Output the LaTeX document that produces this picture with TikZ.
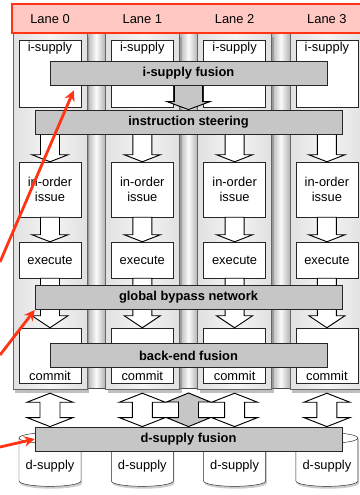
\documentclass[tikz,border=0pt]{standalone}
\usepackage{fontspec}
\setmainfont{Liberation Sans}
\usetikzlibrary{calc, shadows, arrows.meta}

\definecolor{hilite}{HTML}{FF3414}
\definecolor{lanebar}{HTML}{FFC8C2}

\pgfdeclarelayer{back}
\pgfdeclarelayer{front}
\pgfsetlayers{back,main,front}

% fat block arrows: style, shaft half width, head half width, head length, from, to
\newcommand{\fatdown}[6]{%
  \draw[#1] ($(#5)+(-#2,0)$) -- ($(#6)+(-#2,-#4)$) -- ($(#6)+(-#3,-#4)$) -- (#6)
    -- ($(#6)+(#3,-#4)$) -- ($(#6)+(#2,-#4)$) -- ($(#5)+(#2,0)$) -- cycle;}
\newcommand{\fatboth}[6]{%
  \draw[#1] (#5) -- ($(#5)+(#3,#4)$) -- ($(#5)+(#2,#4)$) -- ($(#6)+(#2,-#4)$)
    -- ($(#6)+(#3,-#4)$) -- (#6) -- ($(#6)+(-#3,-#4)$) -- ($(#6)+(-#2,-#4)$)
    -- ($(#5)+(-#2,#4)$) -- ($(#5)+(-#3,#4)$) -- cycle;}

\begin{document}
\begin{tikzpicture}[x=0.03cm, y=-0.03cm, font=\fontsize{11}{13}\selectfont, line width=0.6pt,
    box/.style={draw=black!85, fill=white, minimum width=1.86cm, inner sep=1pt, align=center},
    bar/.style={draw=black!85, fill=gray!45, font=\fontsize{11}{13}\selectfont\bfseries, minimum height=0.73cm},
    fat/.style={draw=black, fill=white, line width=0.8pt, line join=miter},
    fatgray/.style={fat, fill=gray!45},
    panel/.style={draw=black!60, left color=gray!24, right color=gray!24, middle color=gray!8,
      drop shadow={opacity=0.5, shadow xshift=2pt, shadow yshift=-3pt}},
    store/.style={draw=black!85, fill=white, drop shadow={opacity=0.4, shadow xshift=1pt, shadow yshift=-2pt}},
    pointer/.style={hilite, line width=2.4pt, -{Stealth[length=9pt, width=9pt]}}]
  \useasboundingbox (0,0) rectangle (360,495);
  \clip (0,0) rectangle (360,495);

  % Lane header
  \draw[hilite, line width=2.5pt, fill=lanebar] (12,4) rectangle (375,33);
  \foreach \i in {0,...,3}
    \node (lane\i) at (50+92.3*\i,19) {Lane \i};

  % Lane panels and pillars
  \begin{pgfonlayer}{back}
    \foreach \i in {0,...,2}
      \shade[draw=black!70, left color=gray!60, right color=gray!60, middle color=gray!3]
        (87+92.3*\i,33) rectangle (105.3+92.3*\i,388);
    \foreach \i in {0,...,3}
      \draw[panel] (13+92.3*\i,33) rectangle (87+92.3*\i,389);
  \end{pgfonlayer}

  % Per-lane stages
  \foreach \i in {0,...,3} {
    \node[box, minimum height=2.01cm, label={[anchor=north, inner sep=2pt]north:i-supply}] (isup\i) at (50+92.3*\i,73.5) {};
    \node[box, minimum height=1.65cm] (issue\i) at (50+92.3*\i,189.5) {in-order\\issue};
    \node[box, minimum height=1.08cm] (exec\i) at (50+92.3*\i,260) {execute};
    \node[box, minimum height=1.65cm, label={[anchor=south, inner sep=2pt]south:commit}] (commit\i) at (50+92.3*\i,355.5) {};
    \coordinate (dtop\i) at ($(commit\i.south)+(0,10)$);
    % d-supply store
    \draw[store] (19+92.3*\i,438) -- (19+92.3*\i,481)
      arc[start angle=180, end angle=360, x radius=0.93cm, y radius=0.16cm]
      -- (81+92.3*\i,438) arc[start angle=0, end angle=180, x radius=0.93cm, y radius=0.16cm] -- cycle;
    \draw[draw=black!85] (19+92.3*\i,438) arc[start angle=180, end angle=360, x radius=0.93cm, y radius=0.16cm];
    \node (dsup\i) at (50+92.3*\i,466) {d-supply};
  }

  % Shared bars
  \begin{pgfonlayer}{front}
    \node[bar, minimum width=8.31cm] (isf) at (188.5,73) {i-supply fusion};
    \node[bar, minimum width=9.21cm] (steer) at (188.5,122) {instruction steering};
    \node[bar, minimum width=9.21cm] (bypass) at (188.5,297.5) {global bypass network};
    \node[bar, minimum width=8.31cm] (bef) at (188.5,355.5) {back-end fusion};
    \node[bar, minimum width=9.21cm] (dsf) at (188.5,439) {d-supply fusion};
  \end{pgfonlayer}
  \coordinate (dmid) at (188.5,393);

  % Block arrows
  \foreach \i in {0,...,3} {
    \fatdown{fat}{9.5}{18}{7}{steer.south -| issue\i}{issue\i.north}
    \fatdown{fat}{9.5}{18}{7}{issue\i.south}{exec\i.north}
    \fatdown{fat}{9.5}{18}{12}{exec\i.south}{commit\i.north}
    \fatboth{fat}{10}{23}{9}{dtop\i}{dsf.north -| dtop\i}
  }
  \fatdown{fatgray}{14}{21.5}{8}{isf.south}{steer.north}
  \fatboth{fatgray}{10}{22}{9}{dmid}{dsf.north -| dmid}

  % Pointers
  \begin{pgfonlayer}{front}
    \coordinate (src-isf) at (0,262);
    \coordinate (src-bypass) at (0,355);
    \coordinate (src-dsf) at (0,447);
    \draw[pointer] (src-isf) -- ($(isf.south west)+(24,5)$);
    \draw[pointer] (src-bypass) -- (bypass.south west);
    \draw[pointer] (src-dsf) -- (dsf.west);
  \end{pgfonlayer}
\end{tikzpicture}
\end{document}
